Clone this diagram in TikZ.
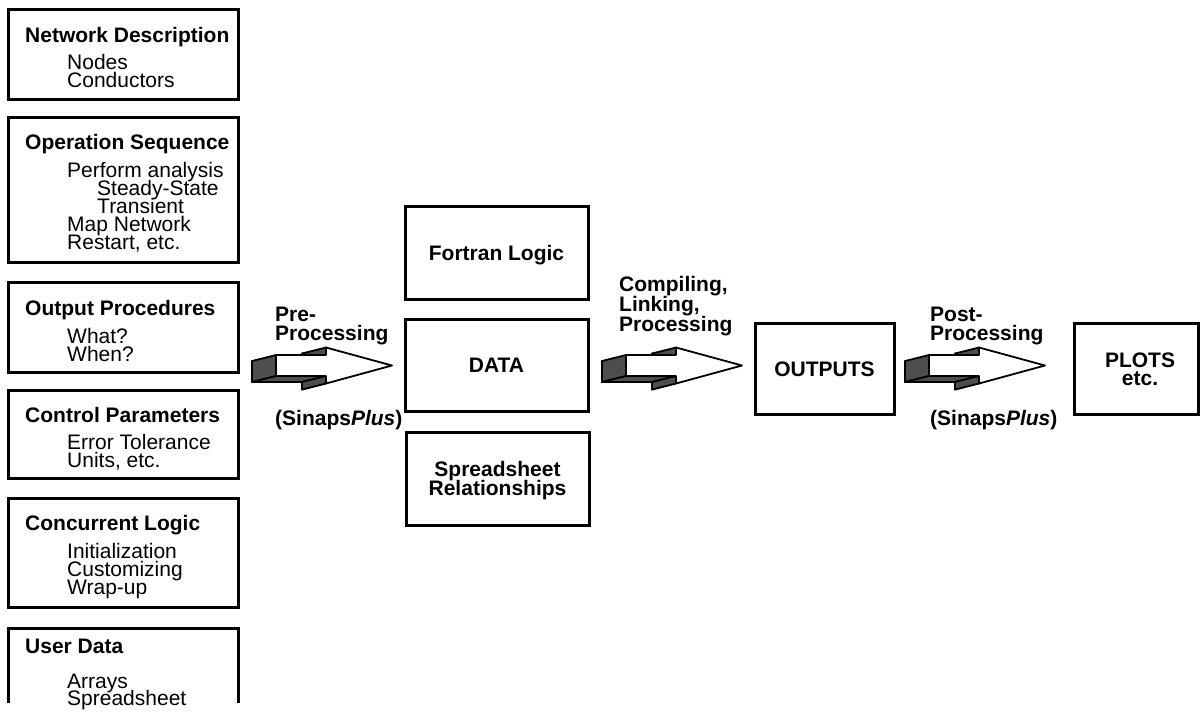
\documentclass[tikz,border=0pt]{standalone}
\usepackage{fontspec}
\setmainfont{Liberation Sans}
\begin{document}
\begin{tikzpicture}[x=1pt,y=-1pt,
  panel/.style={draw, line width=3pt, rectangle, inner sep=0pt, outer sep=0pt, anchor=north west},
  head/.style={anchor=base west, inner sep=0pt, font=\bfseries\fontsize{21}{18}\selectfont},
  item/.style={anchor=base west, inner sep=0pt, font=\fontsize{21}{18}\selectfont},
  mid/.style={anchor=base, inner sep=0pt, font=\bfseries\fontsize{21}{18}\selectfont},
  face/.style={fill=facegray, draw=black, line width=1.8pt, line join=round},
  front/.style={fill=white, draw=black, line width=1.8pt, line join=round},
  fatarrow/.pic={
    % hidden back copy (only its silhouette edges remain visible)
    \path[face] (-24,-4.5) -- (26,-4.5) -- (26,-12) -- (92,6) -- (26,24) -- (26,16.5) -- (-24,16.5) -- cycle;
    % visible side faces
    \path[face] (0,-10.5) -- (0,10.5) -- (-24,16.5) -- (-24,-4.5) -- cycle;
    \path[face] (0,10.5) -- (50,10.5) -- (26,16.5) -- (-24,16.5) -- cycle;
    \path[face] (50,-18) -- (50,-10.5) -- (26,-4.5) -- (26,-12) -- cycle;
    \path[face] (50,10.5) -- (50,18) -- (26,24) -- (26,16.5) -- cycle;
    % front face
    \path[front] (0,-10.5) -- (50,-10.5) -- (50,-18) -- (116,0) -- (50,18) -- (50,10.5) -- (0,10.5) -- cycle;
  }]
\definecolor{facegray}{RGB}{78,78,78}
\useasboundingbox (0,0) rectangle (1201,713);

% ---- input description panels ----
\node[panel, minimum width=230pt, minimum height=90pt]  (netd) at (8,9) {};
\node[head] (netdH) at (25,42) {Network Description};
\node[item] (netd1) at (67,69) {Nodes};
\node[item] (netd2) at (67,87) {Conductors};

\node[panel, minimum width=230pt, minimum height=145pt] (opseq) at (8,117) {};
\node[head] (opseqH) at (25,149) {Operation Sequence};
\node[item] (opseq1) at (67,177) {Perform analysis};
\node[item] (opseq2) at (97,195) {Steady-State};
\node[item] (opseq3) at (97,213) {Transient};
\node[item] (opseq4) at (67,231) {Map Network};
\node[item] (opseq5) at (67,249) {Restart, etc.};

\node[panel, minimum width=230pt, minimum height=90pt]  (outp) at (8,282) {};
\node[head] (outpH) at (25,315) {Output Procedures};
\node[item] (outp1) at (67,343) {What?};
\node[item] (outp2) at (67,361) {When?};

\node[panel, minimum width=230pt, minimum height=88pt]  (ctrl) at (8,390) {};
\node[head] (ctrlH) at (25,422) {Control Parameters};
\node[item] (ctrl1) at (67,449) {Error Tolerance};
\node[item] (ctrl2) at (67,467) {Units, etc.};

\node[panel, minimum width=230pt, minimum height=109pt] (conc) at (8,498) {};
\node[head] (concH) at (25,530) {Concurrent Logic};
\node[item] (conc1) at (67,558) {Initialization};
\node[item] (conc2) at (67,576) {Customizing};
\node[item] (conc3) at (67,594) {Wrap-up};

\coordinate (userBL) at (8,703);
\coordinate (userBR) at (238,703);
\draw[line width=3pt] (userBL) -- (8,628) -- (238,628) -- (userBR);
\node[head] (userH) at (25,653) {User Data};
\node[item] (user1) at (67,688) {Arrays};
\node[item] (user2) at (67,705) {Spreadsheet};

% ---- model panels ----
\node[panel, minimum width=183pt, minimum height=93pt] (fortran) at (405,206) {};
\node[mid] (fortranT) at ([yshift=-7.5pt]fortran.center) {Fortran Logic};
\node[panel, minimum width=183pt, minimum height=92pt] (data) at (405,319) {};
\node[mid] (dataT) at ([yshift=-7.5pt]data.center) {DATA};
\node[panel, minimum width=183pt, minimum height=93pt] (sheet) at (406,432) {};
\node[mid] (sheetT1) at (497.5,476.5) {Spreadsheet};
\node[mid] (sheetT2) at (497.5,495.5) {Relationships};

\node[panel, minimum width=139pt, minimum height=91pt] (outputs) at (755,323) {};
\node[mid] (outputsT) at ([yshift=-7.5pt]outputs.center) {OUTPUTS};
\node[panel, minimum width=124pt, minimum height=91pt] (plots) at (1074,323) {};
\node[mid] (plotsT1) at (1140,367.5) {PLOTS};
\node[mid] (plotsT2) at (1140,385) {etc.};

% ---- processing arrows ----
\pic at (276,365.5) {fatarrow};
\pic at (626,365.5) {fatarrow};
\pic at (929,365.5) {fatarrow};

\node[head] (preA) at (275,321) {Pre-};
\node[head] (preB) at (275,340) {Processing};
\node[head] (preC) at (275,425) {(Sinaps\textit{Plus})};

\node[head] (cmpA) at (619,291) {Compiling,};
\node[head] (cmpB) at (619,311) {Linking,};
\node[head] (cmpC) at (619,331) {Processing};

\node[head] (postA) at (930,321) {Post-};
\node[head] (postB) at (930,340) {Processing};
\node[head] (postC) at (930,425) {(Sinaps\textit{Plus})};
\end{tikzpicture}
\end{document}
